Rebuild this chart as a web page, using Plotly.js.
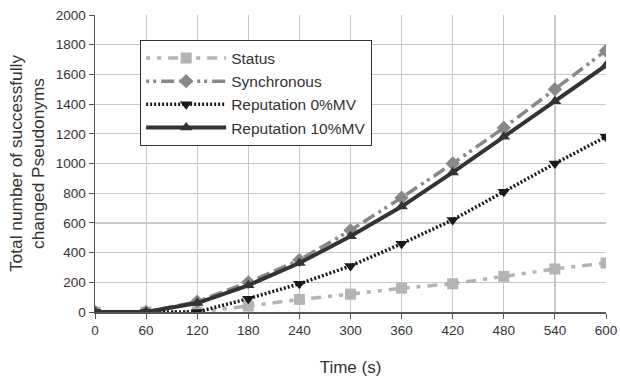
<!DOCTYPE html>
<html><head><meta charset="utf-8">
<script src="https://cdn.plot.ly/plotly-3.0.1.min.js"></script>
<style>body{margin:0;background:#fff}#chart{width:620px;height:377px}</style>
</head><body><div id="chart"></div>
<script>
var timeS = [0, 60, 120, 180, 240, 300, 360, 420, 480, 540, 600];
var statusVals = [0, 0, 0, 40, 85, 120, 160, 190, 240, 290, 330];
var synchronousVals = [0, 0, 70, 200, 350, 550, 770, 1000, 1240, 1500, 1760];
var rep0Vals = [0, 0, 0, 90, 190, 310, 460, 620, 810, 1000, 1180];
var rep10Vals = [0, 0, 60, 180, 330, 510, 710, 940, 1180, 1420, 1660];
var seriesNames = ["Status", "Synchronous", "Reputation 0%MV", "Reputation 10%MV"];

var FONT = "Liberation Sans, Arial, sans-serif";
var traces = [
  {x: timeS, y: statusVals, name: seriesNames[0], mode: "lines+markers",
   line: {color: "#b3b3b3", width: 3.5, dash: "4px,7px,4px,7px,10px,7px"},
   marker: {symbol: "square", size: 11, color: "#b3b3b3"}},
  {x: timeS, y: synchronousVals, name: seriesNames[1], mode: "lines+markers",
   line: {color: "#888888", width: 3.5, dash: "3px,4px,3px,5px,13px,5px,13px,5px"},
   marker: {symbol: "diamond", size: 11, color: "#888888"}},
  {x: timeS, y: rep0Vals, name: seriesNames[2], mode: "lines+markers",
   line: {color: "#1a1a1a", width: 3.5, dash: "2px,2px"},
   marker: {symbol: "triangle-down", size: 11, color: "#1a1a1a"}},
  {x: timeS, y: rep10Vals, name: seriesNames[3], mode: "lines+markers",
   line: {color: "#333333", width: 4},
   marker: {symbol: "triangle-up", size: 11, color: "#333333"}}
];

var layout = {
  width: 620, height: 377,
  margin: {l: 95, r: 14, t: 15, b: 65},
  paper_bgcolor: "#fff", plot_bgcolor: "#fff",
  font: {family: FONT, color: "#333", size: 13.5},
  showlegend: true,
  legend: {x: 0.088, y: 0.915, xanchor: "left", yanchor: "top",
    bgcolor: "#fff", bordercolor: "#333", borderwidth: 1.2,
    font: {size: 15.5, color: "#333", family: FONT}, tracegroupgap: 0, itemwidth: 80},
  xaxis: {
    range: [0, 600], tickvals: timeS, ticktext: timeS.map(String),
    showgrid: true, gridcolor: "#c8c8c8", gridwidth: 1.2,
    showline: true, linecolor: "#555", linewidth: 1.5,
    ticks: "outside", ticklen: 5, tickcolor: "#555",
    zeroline: false, tickfont: {size: 13.5, family: FONT},
    title: {text: "Time (s)", font: {size: 17, color: "#333", family: FONT}, standoff: 24}
  },
  yaxis: {
    range: [0, 2000], dtick: 200,
    showgrid: true, gridcolor: "#c8c8c8", gridwidth: 1.2,
    showline: true, linecolor: "#555", linewidth: 1.5,
    ticks: "outside", ticklen: 5, tickcolor: "#555",
    zeroline: false, tickfont: {size: 13.5, family: FONT},
    title: {text: "Total number of successfully<br>changed Pseudonyms", font: {size: 17.3, color: "#333", family: FONT}, standoff: 6}
  }
};

Plotly.newPlot("chart", traces, layout, {displayModeBar: false, staticPlot: true});
</script></body></html>
